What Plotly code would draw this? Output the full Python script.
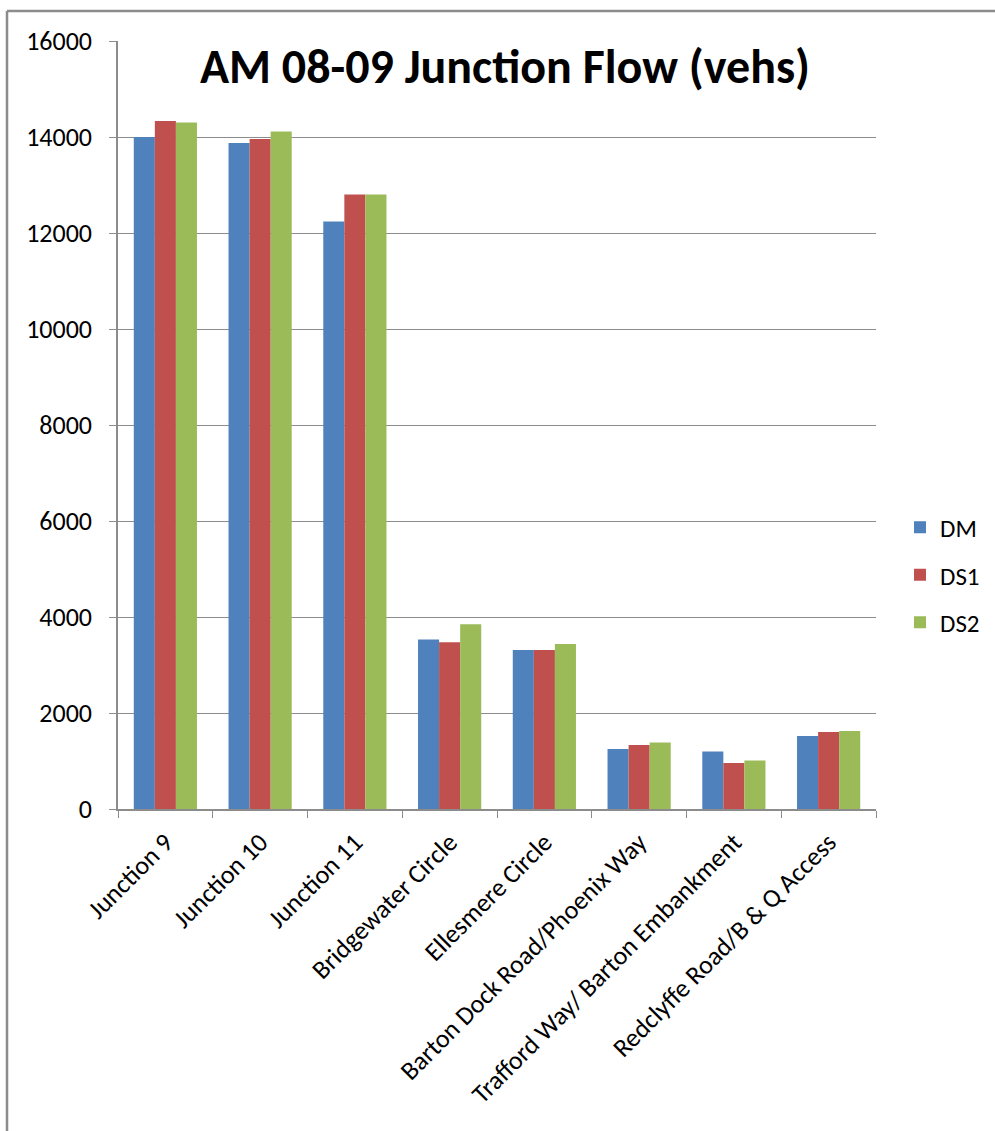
import plotly.graph_objects as go

categories = ["Junction 9", "Junction 10", "Junction 11", "Bridgewater Circle",
              "Ellesmere Circle", "Barton Dock Road/Phoenix Way",
              "Trafford Way/ Barton Embankment", "Redclyffe Road/B & Q Access"]
dm = [14000, 13875, 12242, 3529, 3310, 1250, 1200, 1521]
ds1 = [14333, 13958, 12800, 3473, 3310, 1333, 958, 1604]
ds2 = [14300, 14117, 12800, 3848, 3435, 1388, 1013, 1625]
series_names = ["DM", "DS1", "DS2"]
colors = ["#4F81BD", "#C0504D", "#9BBB59"]
y_ticks = [0, 2000, 4000, 6000, 8000, 10000, 12000, 14000, 16000]

FONT = "Carlito, 'Open Sans', sans-serif"
W, H = 995, 1131
L, R, T, B = 118, 119, 41, 322
pw, ph = W - L - R, H - T - B

fig = go.Figure()
for name, vals, c in zip(series_names, [dm, ds1, ds2], colors):
    fig.add_trace(go.Bar(x=categories, y=vals, name=name, marker_color=c,
                         marker_line_width=0, legendgroup=name))

def px_to_paper_x(px):
    return (px - L) / pw

def px_to_paper_y(py):
    return (H - B - py) / ph

# outer chart border (top and left)
fig.add_shape(type="line", xref="paper", yref="paper",
              x0=px_to_paper_x(7), x1=px_to_paper_x(W + 5),
              y0=px_to_paper_y(11), y1=px_to_paper_y(11),
              line=dict(color="#8c8c8c", width=2.5))
fig.add_shape(type="line", xref="paper", yref="paper",
              x0=px_to_paper_x(7), x1=px_to_paper_x(7),
              y0=px_to_paper_y(11), y1=px_to_paper_y(H + 5),
              line=dict(color="#8c8c8c", width=2.5))

fig.update_layout(
    width=W, height=H,
    margin=dict(l=L, r=R, t=T, b=B, autoexpand=False),
    paper_bgcolor="white", plot_bgcolor="white",
    barmode="group", bargap=0.333, bargroupgap=0,
    font=dict(family=FONT, size=26, color="#000000"),
    title=dict(text="<b>AM 08-09 Junction Flow (vehs)</b>",
               x=505 / W, xanchor="center", y=1 - 66 / H, yanchor="middle",
               font=dict(family=FONT, size=48, color="#000000")),
    legend=dict(x=px_to_paper_x(900), xanchor="left", y=px_to_paper_y(575), yanchor="middle",
                font=dict(family=FONT, size=25, color="#000000"),
                tracegroupgap=12, itemwidth=30, bgcolor="rgba(0,0,0,0)"),
    xaxis=dict(type="category", tickangle=-45, showline=True, linecolor="#8c8c8c", linewidth=1.5,
               ticks="outside", tickson="boundaries", ticklen=7, tickcolor="#8c8c8c",
               showgrid=False, ticklabelstandoff=6, tickfont=dict(family=FONT, size=26)),
    yaxis=dict(range=[0, 16000], tickvals=y_ticks, ticktext=[str(v) for v in y_ticks],
               showline=True, linecolor="#8c8c8c", linewidth=1.5,
               ticks="outside", ticklen=7, tickcolor="#8c8c8c",
               showgrid=True, gridcolor="#8c8c8c", gridwidth=1.2,
               zeroline=False, ticklabelstandoff=12,
               tickfont=dict(family=FONT, size=26)),
)

fig.write_html("out.html")
